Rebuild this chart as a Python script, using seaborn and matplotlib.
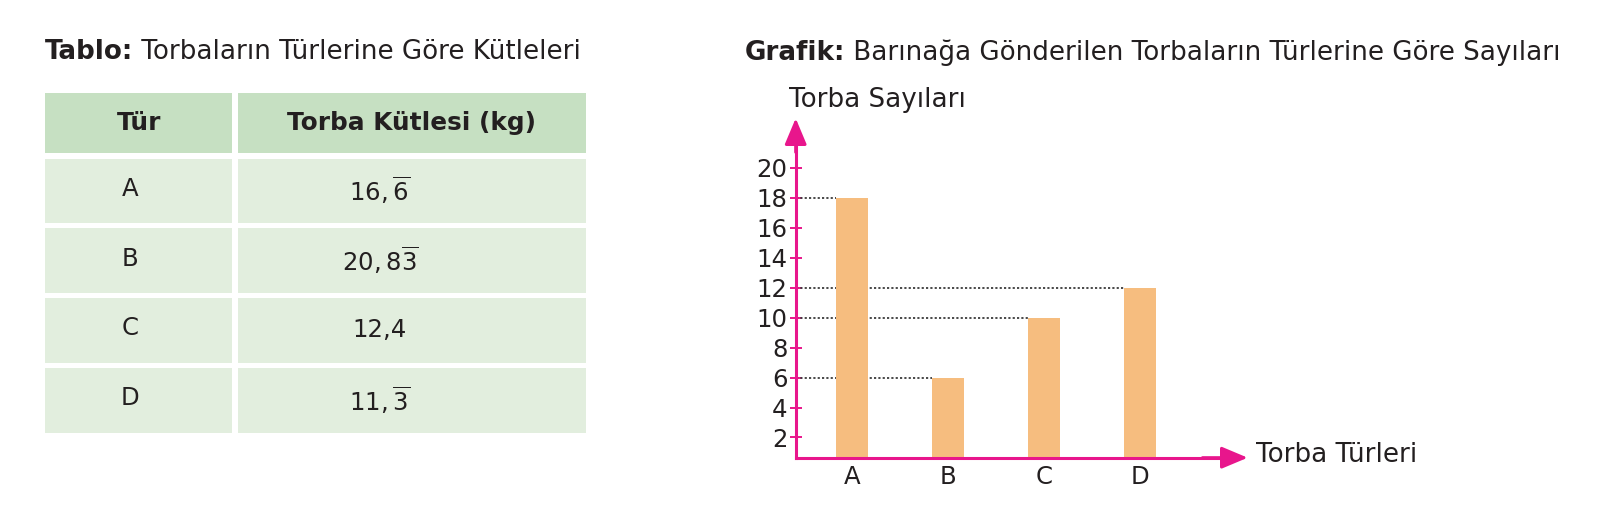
import matplotlib
matplotlib.use('Agg')
import matplotlib.pyplot as plt
import pandas as pd
import seaborn as sns
from matplotlib.patches import Rectangle

# data
turler = ['A', 'B', 'C', 'D']
kutle_etiketleri = [r'$16,\overline{6}$', r'$20,8\overline{3}$', '12,4', r'$11,\overline{3}$']
torba_sayilari = [18, 6, 10, 12]
y_ticks = [2, 4, 6, 8, 10, 12, 14, 16, 18, 20]
tablo_basliklari = ['Tür', 'Torba Kütlesi (kg)']

W, H = 1608, 509
MAGENTA = '#e8168c'
BAR = '#f6bd7f'
TEXT = '#231f20'
HEAD_GREEN = '#c6e0c2'
ROW_GREEN = '#e2eede'
FONT = 'DejaVu Sans'
FS = 18.8
FS_TICK = 17.6

sns.set_theme(style='white')
plt.rcParams['font.family'] = [FONT, 'Liberation Sans']
plt.rcParams['mathtext.fontset'] = 'custom'
plt.rcParams['mathtext.rm'] = FONT
plt.rcParams['mathtext.it'] = FONT + ':italic'
plt.rcParams['mathtext.bf'] = FONT + ':bold'
plt.rcParams['mathtext.default'] = 'regular'
plt.rcParams['text.color'] = TEXT


def fx(px):
    return px / W


def fy(py):
    return 1 - py / H


fig = plt.figure(figsize=(W / 100, H / 100), dpi=100)

# --- table (pixel overlay) ---
ax_t = fig.add_axes([0, 0, 1, 1])
ax_t.set_xlim(0, W)
ax_t.set_ylim(H, 0)
ax_t.axis('off')
ax_t.patch.set_alpha(0)

cols = [(45, 232.5), (238, 586)]
head_top, head_bot = 93.3, 152.7
row_top0, row_step, row_h = 158.5, 69.9, 64.3

for (x0, x1), baslik in zip(cols, tablo_basliklari):
    ax_t.add_patch(Rectangle((x0, head_top), x1 - x0, head_bot - head_top, color=HEAD_GREEN, lw=0))
    ax_t.text((x0 + x1) / 2, (head_top + head_bot) / 2, baslik, ha='center', va='center',
              fontsize=17.8, fontweight='bold')

for i, (tur, etiket) in enumerate(zip(turler, kutle_etiketleri)):
    top = row_top0 + i * row_step
    for x0, x1 in cols:
        ax_t.add_patch(Rectangle((x0, top), x1 - x0, row_h, color=ROW_GREEN, lw=0))
    ax_t.text(130, top + row_h / 2 - 2, tur, ha='center', va='center', fontsize=FS_TICK)
    ax_t.text(380, top + row_h / 2, etiket, ha='center', va='center', fontsize=FS_TICK)

t1 = ax_t.text(45, 59, 'Tablo:', fontweight='bold', fontsize=FS, va='baseline', ha='left')
ax_t.annotate(' Torbaların Türlerine Göre Kütleleri', xy=(1, 0), xycoords=t1,
              va='bottom', ha='left', fontsize=FS)
t2 = ax_t.text(745, 60, 'Grafik:', fontweight='bold', fontsize=FS, va='baseline', ha='left')
ax_t.annotate(' Barınağa Gönderilen Torbaların Türlerine Göre Sayıları', xy=(1, 0), xycoords=t2,
              va='bottom', ha='left', fontsize=FS)

# --- bar chart ---
left_px, right_px, bot_px, top_px = 795.7, 1247.7, 457.7, 118.3
ax = fig.add_axes([fx(left_px), fy(bot_px), (right_px - left_px) / W, (bot_px - top_px) / H])
df = pd.DataFrame({'tur': turler, 'sayi': torba_sayilari})
bar_w = 0.33
sns.barplot(data=df, x='tur', y='sayi', order=turler, color=BAR, saturation=1,
            width=bar_w, linewidth=0, ax=ax, zorder=2)
x_lo, x_hi = -0.584, 4.12
ax.set_xlim(x_lo, x_hi)
ax.set_ylim(0.65, 23.3)
ax.patch.set_alpha(0)

for i, v in enumerate(torba_sayilari):
    ax.hlines(v, x_lo, i - bar_w / 2, colors='#3a3a3a', linestyles=(0, (1.2, 1.2)), lw=1.3, zorder=1)

ax.set_yticks(y_ticks)
ax.tick_params(axis='y', direction='inout', length=8.5, width=1.4, color=MAGENTA, pad=1.5,
               labelsize=FS_TICK, labelcolor=TEXT, left=True)
ax.tick_params(axis='x', length=0, pad=5, labelsize=FS_TICK, labelcolor=TEXT)
ax.set_xlabel('')
ax.set_ylabel('')

for side in ['top', 'right']:
    ax.spines[side].set_visible(False)
for side in ['left', 'bottom']:
    ax.spines[side].set_color(MAGENTA)
    ax.spines[side].set_linewidth(2.2)
ax.spines['left'].set_bounds(0.65, 22.3)
ax.spines['bottom'].set_bounds(x_lo, 4.0)

arrow = dict(arrowstyle='-|>,head_length=1.0,head_width=0.42', color=MAGENTA, lw=2.2,
             shrinkA=0, shrinkB=0, mutation_scale=16)
ax.annotate('', xy=(0, 1), xytext=(0, 0.9), xycoords='axes fraction', arrowprops=arrow)
ax.annotate('', xy=(1, 0), xytext=(0.9, 0), xycoords='axes fraction', arrowprops=arrow)

fig.text(fx(789), fy(100), 'Torba Sayıları', ha='left', va='center', fontsize=FS)
fig.text(fx(1256), fy(455), 'Torba Türleri', ha='left', va='center', fontsize=FS)

fig.savefig('out.png', dpi=100)
